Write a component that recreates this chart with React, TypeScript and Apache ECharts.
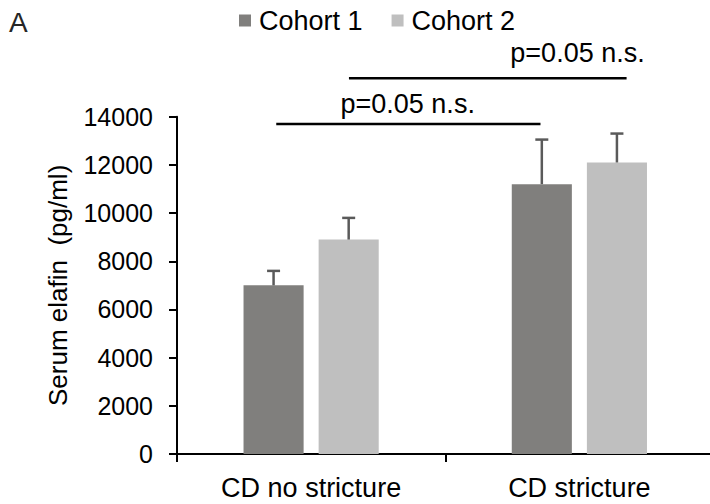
import React, { useEffect, useRef } from "react";
import * as echarts from "echarts";

const categories = ["CD no stricture", "CD stricture"];
const seriesNames = ["Cohort 1", "Cohort 2"];
const cohort1Values = [7000, 11200];
const cohort2Values = [8900, 12100];
const cohort1Errors = [600, 1850];
const cohort2Errors = [900, 1200];
const yTicks = { min: 0, max: 14000, interval: 2000 };
// significance annotations: [lineStartCat, lineEndCat, lineValue, textCat, textValue, label]
const sigLines: [number, number, number, number, number, string][] = [
  [-0.13, 0.855, 13700, 0.36, 14530, "p=0.05 n.s."],
  [0.141, 1.176, 15600, 0.993, 16660, "p=0.05 n.s."],
];
const panelLabel = "A";
const yAxisName = "Serum elafin  (pg/ml)";

const FONT = "'Liberation Sans', Arial, Helvetica, sans-serif";
const COLORS = ["#807f7d", "#bfbfbf"];
const BAR_W = 0.224;
const BAR_GAP = 0.25;

export default function App() {
  const ref = useRef<HTMLDivElement>(null);
  useEffect(() => {
    if (!ref.current) return;
    const chart = echarts.init(ref.current, undefined, { renderer: "svg" });
    const errData: number[][] = [];
    cohort1Values.forEach((v, i) => errData.push([i, v, cohort1Errors[i], 0]));
    cohort2Values.forEach((v, i) => errData.push([i, v, cohort2Errors[i], 1]));
    const sigData = sigLines.map((s) => [0, s[2], s[0], s[1], s[3], s[4]]);

    chart.setOption({
      animation: false,
      textStyle: { fontFamily: FONT },
      graphic: [
        {
          type: "text",
          left: 9,
          top: 8,
          style: { text: panelLabel, font: `28px ${FONT}`, fill: "#262626" },
        },
      ],
      legend: {
        data: seriesNames,
        left: 239,
        top: 7,
        padding: 0,
        icon: "rect",
        itemWidth: 12,
        itemHeight: 12,
        itemGap: 29,
        textStyle: { fontSize: 27, color: "#000", fontFamily: FONT, padding: [0, 0, 0, 3] },
      },
      grid: { left: 177, right: 0.5, top: 116.7, bottom: 50, containLabel: false },
      xAxis: {
        type: "category",
        data: categories,
        axisLine: { lineStyle: { color: "#000", width: 2 } },
        axisTick: { show: true, length: 8, lineStyle: { color: "#000", width: 2 } },
        axisLabel: { fontSize: 27, color: "#000", margin: 20, fontFamily: FONT },
      },
      yAxis: {
        type: "value",
        min: yTicks.min,
        max: yTicks.max,
        interval: yTicks.interval,
        name: yAxisName,
        nameLocation: "middle",
        nameGap: 106,
        nameTextStyle: { fontSize: 26, color: "#000", fontFamily: FONT },
        splitLine: { show: false },
        axisLine: { show: true, lineStyle: { color: "#000", width: 2 } },
        axisTick: { show: true, length: 8, lineStyle: { color: "#000", width: 2 } },
        axisLabel: {
          fontSize: 25,
          color: "#000",
          margin: 24,
          fontFamily: FONT,
          formatter: (v: number) => String(v),
        },
      },
      series: [
        {
          name: seriesNames[0],
          type: "bar",
          data: cohort1Values,
          barWidth: (BAR_W * 100).toFixed(1) + "%",
          barGap: BAR_GAP * 100 + "%",
          itemStyle: { color: COLORS[0] },
        },
        {
          name: seriesNames[1],
          type: "bar",
          data: cohort2Values,
          barWidth: (BAR_W * 100).toFixed(1) + "%",
          barGap: BAR_GAP * 100 + "%",
          itemStyle: { color: COLORS[1] },
        },
        {
          type: "custom",
          z: 10,
          silent: true,
          encode: { x: 0, y: 1 },
          data: errData,
          renderItem: (params: any, api: any) => {
            const band = api.size([1, 0])[0];
            const bw = band * BAR_W;
            const off = (api.value(3) === 0 ? -1 : 1) * (bw + bw * BAR_GAP) / 2;
            const base = api.coord([api.value(0), api.value(1)]);
            const top = api.coord([api.value(0), api.value(1) + api.value(2)]);
            const x = base[0] + off;
            const st = { stroke: "#5a5a5a", lineWidth: 2.5 };
            return {
              type: "group",
              children: [
                { type: "line", shape: { x1: x, y1: base[1], x2: x, y2: top[1] }, style: st },
                { type: "line", shape: { x1: x - 6.5, y1: top[1], x2: x + 6.5, y2: top[1] }, style: st },
              ],
            };
          },
        },
        {
          type: "custom",
          z: 10,
          silent: true,
          encode: { x: 0, y: 1 },
          data: sigData,
          renderItem: (params: any, api: any) => {
            const c0 = api.coord([0, 0])[0];
            const c1 = api.coord([1, 0])[0];
            const px = (f: number) => c0 + f * (c1 - c0);
            const ly = api.coord([0, api.value(1)])[1];
            const ty = api.coord([0, api.value(5)])[1];
            const label = sigLines[params.dataIndex][5];
            return {
              type: "group",
              children: [
                {
                  type: "line",
                  shape: { x1: px(api.value(2)), y1: ly, x2: px(api.value(3)), y2: ly },
                  style: { stroke: "#000", lineWidth: 2.5 },
                },
                {
                  type: "text",
                  x: px(api.value(4)),
                  y: ty,
                  style: {
                    text: label,
                    font: `27px ${FONT}`,
                    fill: "#000",
                    align: "center",
                    verticalAlign: "middle",
                  },
                },
              ],
            };
          },
        },
      ],
    });
    return () => chart.dispose();
  }, []);
  return (
    <div style={{ position: "fixed", left: 0, top: 0, width: 710, height: 504, overflow: "hidden", background: "#fff" }}>
      <div ref={ref} style={{ width: 714, height: 504 }} />
    </div>
  );
}
